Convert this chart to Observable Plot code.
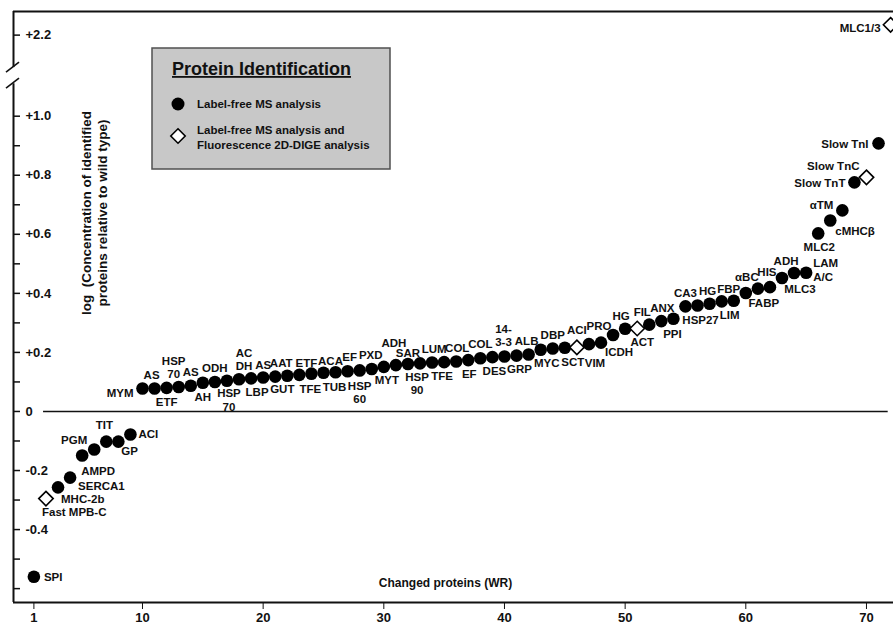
<!DOCTYPE html>
<html><head><meta charset="utf-8">
<script src="https://cdn.jsdelivr.net/npm/d3@7"></script>
<script src="https://cdn.jsdelivr.net/npm/@observablehq/plot@0.6"></script>
<style>
body{margin:0;background:#fff;}
#wrap{position:relative;width:893px;height:625px;font-family:"Liberation Sans",Arial,sans-serif;}
</style></head><body><div id="wrap"></div>
<script>
// ---- data ----
const proteins = ["SPI","Fast MPB-C","MHC-2b","SERCA1","AMPD","PGM","TIT","GP","ACI","MYM",
  "AS","ETF","HSP\n70","AS","AH","ODH","HSP\n70","AC\nDH","LBP","AS",
  "AAT","GUT","ETF","TFE","ACA","TUB","EF","HSP\n60","PXD","MYT",
  "ADH","SAR","HSP\n90","LUM","TFE","COL","EF","COL","DES","14-\n3-3",
  "GRP","ALB","MYC","DBP","SCT","ACI","VIM","PRO","ICDH","HG",
  "ACT","FIL","ANX","PPI","CA3","HSP27","HG","LIM","FBP","FABP",
  "αBC","HIS","MLC3","ADH","LAM\nA/C","MLC2","cMHCβ","αTM","Slow TnT","Slow TnC",
  "Slow TnI","MLC1/3"];
const logConc = [-0.56,-0.295,-0.257,-0.224,-0.149,-0.129,-0.102,-0.102,-0.078,0.078,
  0.078,0.080,0.083,0.087,0.097,0.100,0.104,0.109,0.112,0.115,
  0.118,0.121,0.124,0.128,0.131,0.133,0.136,0.139,0.144,0.151,
  0.157,0.161,0.163,0.166,0.167,0.169,0.174,0.180,0.184,0.186,
  0.189,0.193,0.209,0.213,0.216,0.217,0.228,0.233,0.259,0.280,
  0.281,0.294,0.306,0.314,0.356,0.359,0.365,0.373,0.375,0.401,
  0.416,0.421,0.452,0.469,0.470,0.603,0.647,0.681,0.776,0.793,
  0.908,2.235];
// "MS" = label-free MS analysis, "DIGE" = label-free MS and fluorescence 2D-DIGE
const method = ["MS","DIGE","MS","MS","MS","MS","MS","MS","MS","MS",
  "MS","MS","MS","MS","MS","MS","MS","MS","MS","MS",
  "MS","MS","MS","MS","MS","MS","MS","MS","MS","MS",
  "MS","MS","MS","MS","MS","MS","MS","MS","MS","MS",
  "MS","MS","MS","MS","MS","DIGE","MS","MS","MS","MS",
  "DIGE","MS","MS","MS","MS","MS","MS","MS","MS","MS",
  "MS","MS","MS","MS","MS","MS","MS","MS","MS","DIGE",
  "MS","DIGE"];
const xTicks = [1,10,20,30,40,50,60,70];
const yMajorTicks = [-0.4,-0.2,0,0.2,0.4,0.6,0.8,1.0,2.2];
const yMinorTicks = [-0.6,-0.5,-0.3,-0.1,0.1,0.3,0.5,0.7,0.9];
const xTitle = "Changed proteins (WR)";
const yTitle = "log  (Concentration of identified\nproteins relative to wild type)";
const legendTitle = "Protein Identification";
const legendEntries = [
  {method: "MS", lines: ["Label-free MS analysis"]},
  {method: "DIGE", lines: ["Label-free MS analysis and", "Fluorescence 2D-DIGE analysis"]}
];

// ---- layout (label placement: text anchor, dx, dy in px) ----
const labelLayout = [
  ["start",10,0],["start",-4,13],["start",3,11],["start",8,8],["start",-1,15],["end",-7,-10],["middle",-2,-17],["start",3,9],["start",8,-1],["end",-9,4],
  ["middle",-3,-14],["middle",0,14],["middle",-5,-20],["middle",0,-14],["middle",0,14],["middle",0,-14],["middle",2,19],["middle",5,-20],["middle",6,13],["middle",0,-13],
  ["middle",6,-14],["middle",-5,13],["middle",7,-12],["middle",-1,15],["middle",7,-12],["middle",-1,15],["middle",2,-15],["middle",0,22],["middle",-1,-14],["middle",3,13],
  ["middle",-2,-22],["middle",0,-11],["middle",-3,20],["middle",2,-14],["middle",-2,14],["middle",1,-14],["middle",1,14],["middle",0,-15],["middle",2,14],["middle",-1,-21],
  ["middle",3,13],["middle",-2,-14],["middle",6,13],["middle",0,-14],["middle",8,14],["middle",0,-18],["middle",6,19],["middle",-2,-17],["middle",6,17],["middle",-4,-13],
  ["middle",5,13],["middle",-7,-13],["middle",1,-13],["middle",-1,15],["middle",0,-14],["middle",3,14],["middle",-2,-13],["middle",8,13],["middle",-5,-12],["middle",18,10],
  ["middle",-11,-12],["middle",-3,-15],["middle",18,11],["middle",-8,-12],["start",7,-3],["middle",1,13],["start",5,10],["end",-9,-6],["end",-9,0],["end",-7,-12],
  ["end",-10,0],["end",-10,3]
];

const W = 893, H = 625;
const xDomain = [-0.69, 72.24];
// broken y axis: values above the break are shifted down by breakShift
const breakAt = 1.6, breakShift = 0.9254;
const yTransform = v => v > breakAt ? v - breakShift : v;
const yDomain = [-0.647, 2.28];
const axisBreak = [1.11, 2.09];
const zeroLineSpan = [1.8, 71.8];
const ink = "#111";
const font = "Liberation Sans, Arial, sans-serif";

const rows = proteins.map((name, i) => ({rank: i + 1, name, value: logConc[i], method: method[i]}));
const fmtY = d => d === 0 ? "0" : (d > 0 ? "+" : "-") + Math.abs(d).toFixed(1);

const labelMarks = rows.map((d, i) => {
  const [anchor, dx, dy] = labelLayout[i];
  return Plot.text([d], {x: "rank", y: "value", text: "name", textAnchor: anchor, dx, dy,
    fontSize: 11.5, fontWeight: "bold", lineHeight: 1.15, fill: ink});
});

const chart = Plot.plot({
  width: W, height: H,
  marginLeft: 13, marginRight: 0, marginTop: 11, marginBottom: 23,
  style: {fontFamily: font, fontSize: "13px", fontWeight: "bold", color: ink, background: "white"},
  x: {domain: xDomain, ticks: xTicks, tickSize: 7, tickPadding: 3, tickFormat: d => String(d), label: null},
  y: {axis: null, transform: yTransform, domain: yDomain.map(yTransform)},
  marks: [
    Plot.ruleY([yDomain[1]], {stroke: ink, strokeWidth: 2}),
    Plot.ruleY([yDomain[0]], {stroke: ink, strokeWidth: 2}),
    Plot.ruleX([xDomain[0]], {y1: yDomain[0], y2: axisBreak[0], stroke: ink, strokeWidth: 2}),
    Plot.ruleX([xDomain[0]], {y1: axisBreak[1], y2: yDomain[1], stroke: ink, strokeWidth: 2}),
    Plot.ruleY([0], {x1: zeroLineSpan[0], x2: zeroLineSpan[1], stroke: ink, strokeWidth: 1.5}),
    Plot.tickY(yMajorTicks.concat(yMinorTicks), {y: d => d, insetRight: W - 13 - 7, stroke: ink, strokeWidth: 1.5}),
    Plot.text(yMajorTicks, {y: d => d, text: fmtY, frameAnchor: "left", dx: 12, textAnchor: "start", fontSize: 13, fontWeight: "bold", fill: ink}),
    Plot.dot(rows.filter(d => d.method === "MS"), {x: "rank", y: "value", r: 6.3, fill: "#000"}),
    Plot.dot(rows.filter(d => d.method === "DIGE"), {x: "rank", y: "value", symbol: "diamond2", r: 6.5, fill: "white", stroke: "#000", strokeWidth: 1.6}),
    ...labelMarks,
    Plot.text([xTitle], {frameAnchor: "bottom", lineAnchor: "middle", textAnchor: "middle", dx: -8, dy: -19, fontSize: 12, fontWeight: "bold", fill: ink}),
    Plot.text([yTitle], {frameAnchor: "left", textAnchor: "middle", lineAnchor: "middle", dx: 80, dy: -94, rotate: -90, fontSize: 13.5, fontWeight: "bold", lineHeight: 1.18, fill: ink})
  ]
});

// axis break slashes (just above the lower axis segment)
const sx = chart.scale("x"), sy = chart.scale("y");
const g = d3.select(chart).append("g").attr("stroke", ink).attr("stroke-width", 1.6);
const px = sx.apply(xDomain[0]), pyLow = sy.apply(axisBreak[0]);
[pyLow, pyLow - 16].forEach(py => {
  g.append("line").attr("x1", px - 7).attr("y1", py + 5).attr("x2", px + 6).attr("y2", py - 5);
});

const wrap = document.getElementById("wrap");
wrap.appendChild(chart);

// legend (HTML overlay)
const sym = m => m === "MS"
  ? `<circle cx="27" cy="0" r="6.5" fill="#000"/>`
  : `<path d="M27,-7.2L34.2,0L27,7.2L19.8,0Z" fill="#fff" stroke="#000" stroke-width="1.6"/>`;
let items = "";
const itemY = [57, 89];
legendEntries.forEach((e, i) => {
  const y0 = itemY[i];
  const texts = e.lines.map((t, j) => `<text x="46" y="${(e.lines.length === 1 ? 4 : -2 + j * 15)}" font-size="11.5" font-weight="bold" fill="${ink}">${t}</text>`).join("");
  items += `<g transform="translate(0,${y0})">${sym(e.method)}${texts}</g>`;
});
const leg = document.createElement("div");
leg.style.cssText = "position:absolute;left:151px;top:47px;";
leg.innerHTML = `<svg width="242" height="123" style="font-family:${font}">
<rect x="1" y="1" width="238" height="121" fill="#c8c8c8" stroke="#505050" stroke-width="1.5"/>
<text x="21" y="28" font-size="18" font-weight="bold" fill="${ink}" text-decoration="underline">${legendTitle}</text>
${items}</svg>`;
wrap.appendChild(leg);
</script></body></html>
